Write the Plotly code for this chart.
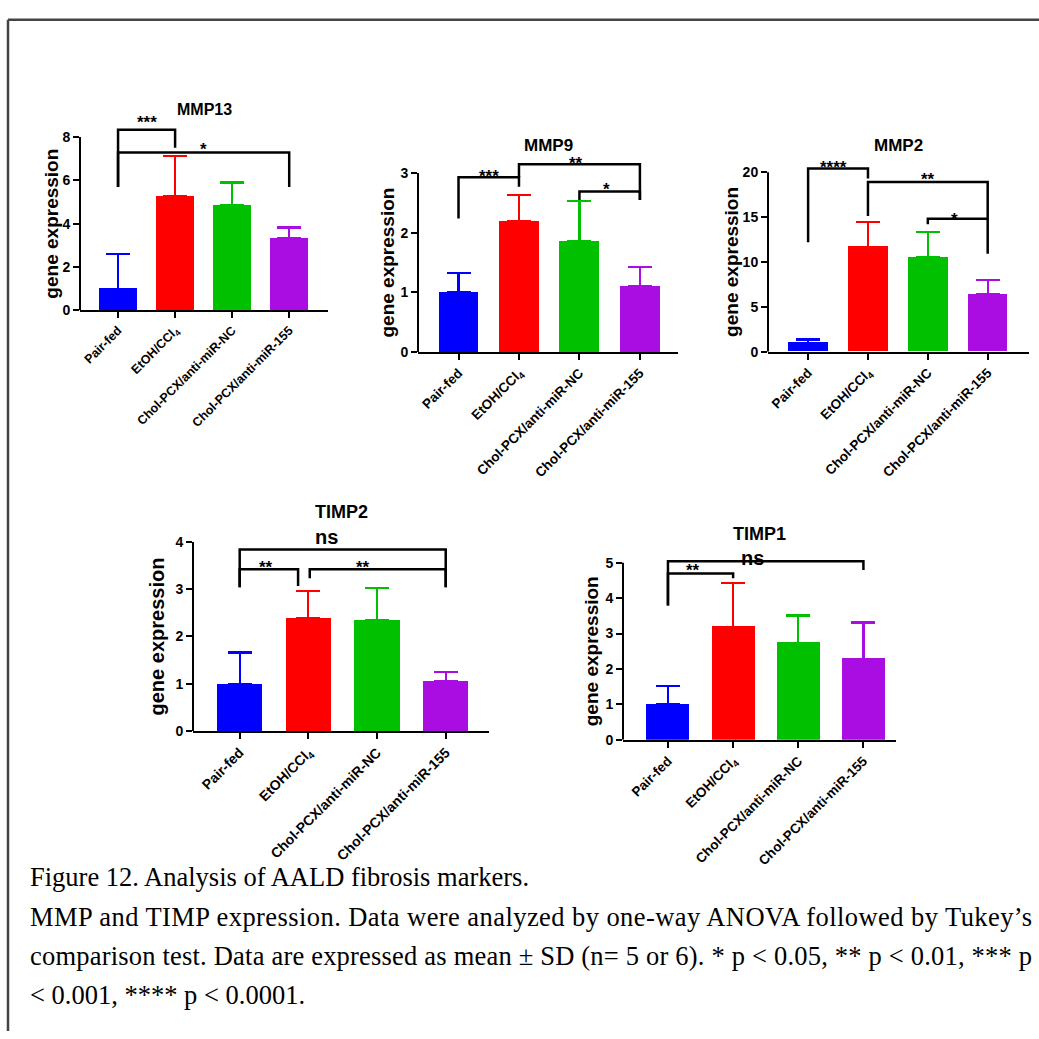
import plotly.graph_objects as go

W = H = 1039

categories = ["Pair-fed", "EtOH/CCl<sub>4</sub>", "Chol-PCX/anti-miR-NC", "Chol-PCX/anti-miR-155"]
bar_colors = ["#0000FF", "#FF0000", "#00C000", "#A90DE1"]

mmp13_mean = [1.00, 5.27, 4.85, 3.35]
mmp13_sd = [1.60, 1.87, 1.05, 0.47]
mmp9_mean = [1.00, 2.19, 1.86, 1.10]
mmp9_sd = [0.32, 0.44, 0.67, 0.33]
mmp2_mean = [1.00, 11.70, 10.50, 6.44]
mmp2_sd = [0.35, 2.78, 2.80, 1.54]
timp2_mean = [1.00, 2.39, 2.35, 1.05]
timp2_sd = [0.66, 0.57, 0.68, 0.20]
timp1_mean = [1.00, 3.19, 2.74, 2.29]
timp1_sd = [0.51, 1.24, 0.77, 1.02]

# significance brackets: (x_left, x_right, y_top, y_left_end, y_right_end, label, label_x, label_y)
mmp13_brackets = [(0, 1, 8.33, 5.69, 7.50, "***", 0.5, 8.85),
                  (0, 3, 7.28, 5.69, 5.69, "*", 1.5, 7.64)]
mmp9_brackets = [(0, 1, 2.93, 2.24, 2.77, "***", 0.5, 3.02),
                 (1, 3, 3.15, 2.93, 2.55, "**", 1.95, 3.24),
                 (2, 3, 2.69, 2.55, 2.55, "*", 2.45, 2.80)]
mmp2_brackets = [(0, 1, 20.4, 12.2, 19.3, "****", 0.42, 20.97),
                 (1, 3, 18.9, 15.1, 10.9, "**", 2.0, 19.65),
                 (2, 3, 14.8, 14.2, 14.8, "*", 2.45, 15.26)]
timp2_brackets = [(0, 3, 3.84, 3.04, 3.04, "ns", 1.26, 4.10),
                  (0, 0.85, 3.42, 3.04, 3.07, "**", 0.38, 3.55),
                  (1.02, 3, 3.42, 3.23, 3.04, "**", 1.8, 3.55)]
timp1_brackets = [(0, 3, 5.04, 3.79, 4.79, "ns", 1.3, 5.12),
                  (0, 1, 4.69, 3.79, 4.56, "**", 0.38, 4.90)]

yticks_mmp13 = [0, 2, 4, 6, 8]
yticks_mmp9 = [0, 1, 2, 3]
yticks_mmp2 = [0, 5, 10, 15, 20]
yticks_timp2 = [0, 1, 2, 3, 4]
yticks_timp1 = [0, 1, 2, 3, 4, 5]

# layout boxes in pixels: x_left, x_right, y of value 0, y of top tick; range top, x range,
# title y, tick font, title font, y-title font, y-title offset
panels = [
    dict(name="MMP13", mean=mmp13_mean, sd=mmp13_sd, ticks=yticks_mmp13, br=mmp13_brackets,
         px=(80, 328, 307, 131), ytop=8.5, xr=(-0.667, 3.68), ty=103, tfs=12.5, titfs=16, yfs=19, yts=-28),
    dict(name="MMP9", mean=mmp9_mean, sd=mmp9_sd, ticks=yticks_mmp9, br=mmp9_brackets,
         px=(418, 678, 349.3, 167.7), ytop=3.25, xr=(-0.67, 3.63), ty=140, tfs=13.5, titfs=17, yfs=19, yts=-30),
    dict(name="MMP2", mean=mmp2_mean, sd=mmp2_sd, ticks=yticks_mmp2, br=mmp2_brackets,
         px=(768, 1029, 349, 166.7), ytop=21.0, xr=(-0.67, 3.69), ty=140, tfs=13.5, titfs=17, yfs=19, yts=-36),
    dict(name="TIMP2", mean=timp2_mean, sd=timp2_sd, ticks=yticks_timp2, br=timp2_brackets,
         px=(193, 489, 734.3, 542.3), ytop=4.0, xr=(-0.68, 3.63), ty=512, tfs=14, titfs=18, yfs=20, yts=-36),
    dict(name="TIMP1", mean=timp1_mean, sd=timp1_sd, ticks=yticks_timp1, br=timp1_brackets,
         px=(623, 896, 743.3, 563.3), ytop=5.15, xr=(-0.69, 3.5), ty=534, tfs=13.5, titfs=18, yfs=19, yts=-32),
]

SANS = "Liberation Sans, Arial, sans-serif"
SERIF = "Liberation Serif, Times New Roman, serif"

fig = go.Figure()
shapes = []
annotations = []
layout = {}

for i, p in enumerate(panels, start=1):
    xa = "x" if i == 1 else f"x{i}"
    ya = "y" if i == 1 else f"y{i}"
    xl, xr_px, y0px, ytpx = p["px"]
    ppu = (y0px - ytpx) / p["ticks"][-1]
    top_px = y0px - p["ytop"] * ppu
    xdom = [xl / W, xr_px / W]
    ydom = [1 - y0px / H, 1 - top_px / H]

    for j, cat in enumerate(categories):
        fig.add_trace(go.Bar(
            x=[j], y=[p["mean"][j]], width=0.66,
            marker=dict(color=bar_colors[j], line=dict(width=0)),
            error_y=dict(type="data", symmetric=False, array=[p["sd"][j]], arrayminus=[0],
                         color=bar_colors[j], thickness=2.2, width=12),
            xaxis=xa, yaxis=ya, showlegend=False, hoverinfo="skip"))

    layout["xaxis" if i == 1 else f"xaxis{i}"] = dict(
        domain=xdom, anchor=ya, range=list(p["xr"]), tickmode="array",
        tickvals=list(range(len(categories))), ticktext=categories, tickangle=-45,
        showline=True, linecolor="black", linewidth=2, ticks="outside", ticklen=6,
        tickwidth=2, tickcolor="black", showgrid=False, zeroline=False, fixedrange=True,
        tickfont=dict(family=SANS, size=p["tfs"], color="black", weight="bold"))
    layout["yaxis" if i == 1 else f"yaxis{i}"] = dict(
        domain=ydom, anchor=xa, range=[0, p["ytop"]], tickmode="array",
        tickvals=p["ticks"], ticktext=[str(t) for t in p["ticks"]],
        showline=False, ticks="outside", ticklen=6, tickwidth=2, tickcolor="black",
        showgrid=False, zeroline=False, fixedrange=True,
        tickfont=dict(family=SANS, size=14, color="black", weight="bold"))

    # y spine from 0 to the top tick
    shapes.append(dict(type="line", xref=f"{xa} domain", yref=ya, x0=0, x1=0,
                       y0=0, y1=p["ticks"][-1], line=dict(color="black", width=2)))

    # brackets
    for (bx0, bx1, btop, bl, brr, lab, lx, ly) in p["br"]:
        path = f"M {bx0},{bl} L {bx0},{btop} L {bx1},{btop} L {bx1},{brr}"
        shapes.append(dict(type="path", xref=xa, yref=ya, path=path,
                           line=dict(color="black", width=2.5)))
        fs = 20 if lab == "ns" else 17
        glyph = 0 if lab == "ns" else fs * 0.27
        annotations.append(dict(xref=xa, yref=ya, x=lx, y=btop, text=f"<b>{lab}</b>",
                                showarrow=False, xanchor="center", yanchor="middle",
                                yshift=(ly - btop) * ppu - glyph,
                                font=dict(family=SANS, size=fs, color="black")))

    # panel title
    annotations.append(dict(xref=f"{xa} domain", yref="paper", x=0.5, y=1 - p["ty"] / H,
                            text=f"<b>{p['name']}</b>", showarrow=False,
                            xanchor="center", yanchor="middle",
                            font=dict(family=SANS, size=p["titfs"], color="black")))
    # y axis title
    annotations.append(dict(xref=f"{xa} domain", yref=ya, x=0, y=p["ticks"][-1] / 2,
                            xshift=p["yts"], text="<b>gene expression</b>", textangle=-90,
                            showarrow=False, xanchor="center", yanchor="middle",
                            font=dict(family=SANS, size=p["yfs"], color="black")))

caption_lines = [
    "Figure 12. Analysis of AALD fibrosis markers.",
    "MMP and TIMP expression. Data were analyzed by one-way ANOVA followed by Tukey\u2019s",
    "comparison test. Data are expressed as mean \u00b1 SD (n= 5 or 6). * p &lt; 0.05, ** p &lt; 0.01, *** p",
    "&lt; 0.001, **** p &lt; 0.0001.",
]
caption_y = [883, 923, 963, 1002]
for txt, cy in zip(caption_lines, caption_y):
    annotations.append(dict(xref="paper", yref="paper", x=28 / W, y=1 - cy / H, text=txt,
                            showarrow=False, xanchor="left", yanchor="middle", align="left",
                            font=dict(family=SERIF, size=26.5, color="black")))

# page frame
shapes.append(dict(type="line", xref="paper", yref="paper", x0=8 / W, x1=1, y0=1 - 12 / H, y1=1 - 12 / H,
                   line=dict(color="#444444", width=2.5)))
shapes.append(dict(type="line", xref="paper", yref="paper", x0=8 / W, x1=8 / W, y0=1 - 12 / H, y1=0,
                   line=dict(color="#444444", width=2.5)))

fig.update_layout(width=W, height=H, margin=dict(l=0, r=0, t=0, b=0),
                  paper_bgcolor="white", plot_bgcolor="white", bargap=0,
                  shapes=shapes, annotations=annotations, **layout)

# remove page margin; justify the two middle caption lines to the right edge like the source
post_js = """
document.body.style.margin = '0';
document.body.style.overflow = 'hidden';
document.querySelectorAll('.annotation-text').forEach(function(t) {
  var s = t.textContent;
  if (s.indexOf('MMP and TIMP') === 0 || s.indexOf('comparison test') === 0) {
    t.setAttribute('textLength', '1002');
    t.setAttribute('lengthAdjust', 'spacing');
  }
});
"""

fig.write_html("out.html", post_script=post_js, config={"displayModeBar": False})
